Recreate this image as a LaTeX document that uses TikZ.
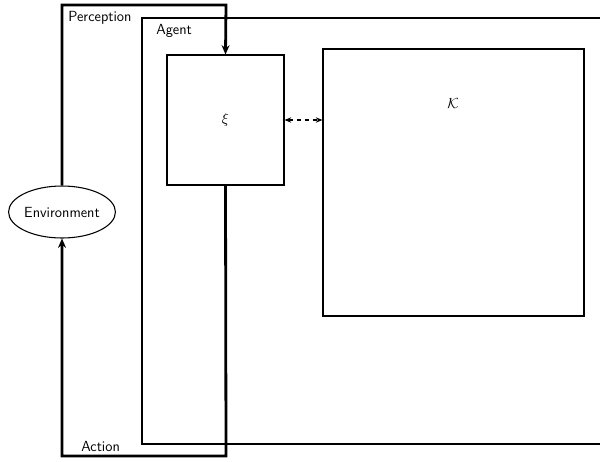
\documentclass[tikz,border=0pt]{standalone}
\usetikzlibrary{arrows.meta,shapes.geometric,fit}
\begin{document}
\begin{tikzpicture}[x=0.75pt,y=-0.75pt,
  font=\sffamily\fontsize{11}{13}\selectfont,
  thinbox/.style={draw,line width=0.8pt,inner sep=0pt},
  flow/.style={line width=2.1pt,-{Stealth[length=7pt,width=6pt]}},
  link/.style={line width=0.8pt,dashed,{Stealth[length=5pt,width=4pt]}-{Stealth[length=5pt,width=4pt]}},
  tag/.style={anchor=west,inner sep=0pt}]
  \useasboundingbox (0,0) rectangle (600,461);
  \clip (0,0) rectangle (600,461);
  % agent container (runs past the right border)
  \draw[line width=0.8pt] (142,18) rectangle (660,444);
  \node[tag] (agentlbl) at (156,31) {Agent};
  % inner components
  \node[thinbox,fit={(167,55) (284,185)}] (xi) {};
  \node (xilbl) at (xi.center) {$\xi$};
  \node[thinbox,fit={(323,49) (584,316)}] (kb) {};
  \node (kblbl) at (453,104) {$\mathcal{K}$};
  \draw[link] (xi.east) -- (xi.east -| kb.west);
  % environment
  \node[draw,ellipse,line width=0.8pt,minimum width=79pt,minimum height=39pt,inner sep=0pt] (env) at (62,212) {Environment};
  % perception / action loop
  \coordinate (ptop) at (226,5);
  \coordinate (abot) at (226,456);
  \draw[flow] (env.north) |- (ptop) -- (xi.north);
  \draw[flow] (xi.south) -- (abot) -| (env.south);
  \node[tag] (perlbl) at (68,18) {Perception};
  \node[tag] (actlbl) at (81,446) {Action};
\end{tikzpicture}
\end{document}
